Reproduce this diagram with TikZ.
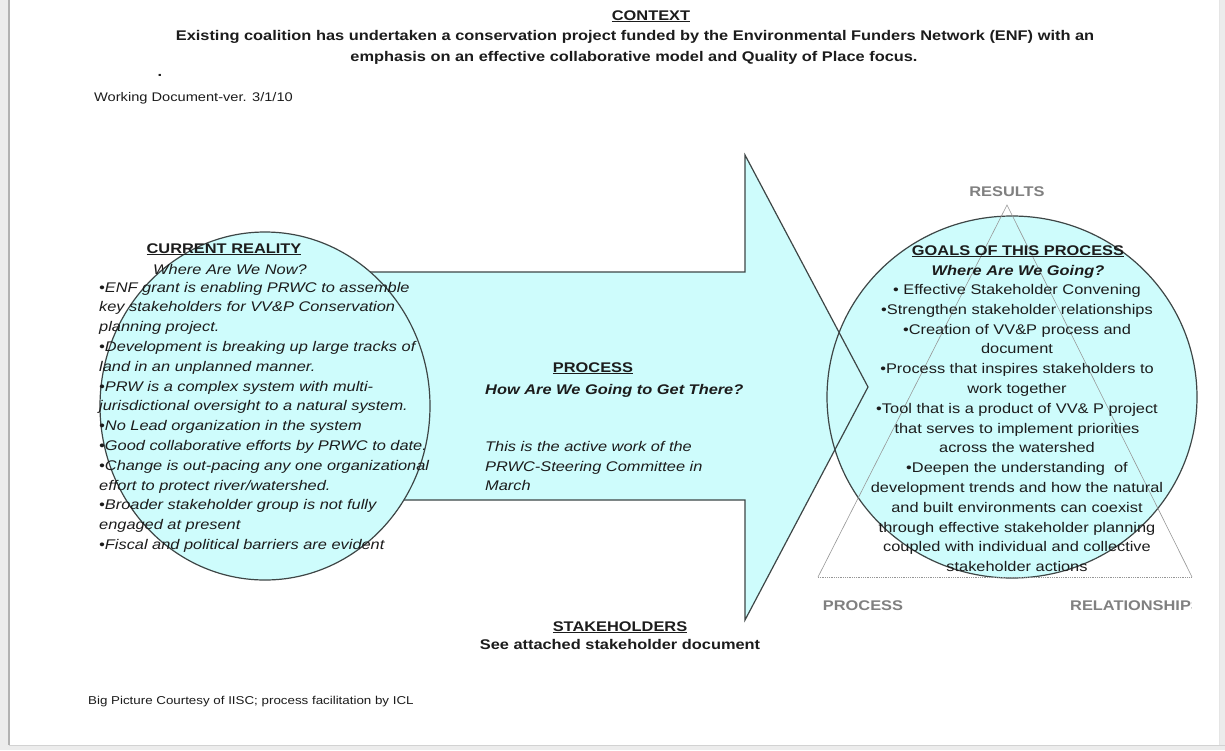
\documentclass[tikz,border=0pt]{standalone}
\usepackage{fontspec}
\setmainfont{Liberation Sans}[FakeStretch=1.17]
\definecolor{fillc}{RGB}{206,252,252}
\definecolor{linec}{RGB}{62,70,70}
\definecolor{txtc}{RGB}{28,28,28}
\definecolor{lblc}{RGB}{128,128,128}
\definecolor{tric}{RGB}{150,150,150}
\definecolor{outc}{RGB}{236,236,236}
\begin{document}
\begin{tikzpicture}[x=1pt,y=-1pt,
  every node/.style={inner sep=0pt, text=txtc},
  bodyfont/.style={font=\fontsize{14}{16}\selectfont},
  headfont/.style={font=\fontsize{14}{16}\selectfont\bfseries},
  topfont/.style={font=\fontsize{14}{16}\selectfont\bfseries},
  smallfont/.style={font=\fontsize{12.5}{14}\selectfont},
  tinyfont/.style={font=\fontsize{11.4}{13}\selectfont},
  lblfont/.style={font=\fontsize{14}{16}\selectfont\bfseries, text=lblc},
  outline/.style={draw=linec, line width=1.2pt},
  triside/.style={draw=tric, line width=0.6pt},
  tribase/.style={draw=tric, line width=0.8pt, densely dotted}
]
\useasboundingbox (0,0) rectangle (1225,750);
% page
\fill[outc] (0,0) rectangle (1225,750);
\fill[white] (9,0) rectangle (1219,745);
\draw[gray!60, line width=2pt] (9,0) -- (9,745);
\draw[gray!35, line width=1pt] (9,745) -- (1225,745);
\draw[gray!20, line width=0.8pt] (1219,0) -- (1219,745);

% fills
\fill[fillc] (300,272) -- (745,272) -- (745,155) -- (868,387) -- (745,620) -- (745,500) -- (300,500) -- cycle;
\fill[fillc] (1012,397) ellipse [x radius=185pt, y radius=181pt];
% outlines
\draw[outline] (300,272) -- (745,272) -- (745,155) -- (868,387) -- (745,620) -- (745,500) -- (300,500);
\draw[outline] (1012,397) ellipse [x radius=185pt, y radius=181pt];
% left circle
\filldraw[fill=fillc, outline] (265,406) ellipse [x radius=165pt, y radius=174pt];

% triangle
\coordinate (apex) at (1007,205);
\coordinate (bl) at (818,577);
\coordinate (br) at (1192,577);
\draw[triside] (bl) -- (apex) -- (br);
\draw[tribase] (bl) -- (br);

% top texts
\node[headfont, anchor=base] (ctx) at (651,20) {\underline{CONTEXT}};
\node[topfont, anchor=base] (ctx1) at (635,40) {Existing coalition has undertaken a conservation project funded by the Environmental Funders Network (ENF) with an};
\node[topfont, anchor=base] (ctx2) at (634,61) {emphasis on an effective collaborative model and Quality of Place focus.};
\node[headfont, anchor=base] (dot) at (160,76) {.};
\node[smallfont, anchor=base west] (wd) at (94,101) {Working Document-ver. 3/1/10};

% left circle text
\node[headfont, anchor=base] (crh) at (224,253) {\underline{CURRENT REALITY}};
\node[anchor=base, font=\fontsize{14}{16}\selectfont\itshape] (crs) at (230,274.5) {Where Are We Now?};
\foreach \t [count=\i] in {
  {•ENF grant is enabling PRWC to assemble},
  {key stakeholders for VV\&P Conservation},
  {planning project.},
  {•Development is breaking up large tracks of},
  {land in an unplanned manner.},
  {•PRW is a complex system with multi-},
  {jurisdictional oversight to a natural system.},
  {•No Lead organization in the system},
  {•Good collaborative efforts by PRWC to date.},
  {•Change is out-pacing any one organizational},
  {effort to protect river/watershed.},
  {•Broader stakeholder group is not fully},
  {engaged at present},
  {•Fiscal and political barriers are evident}}
  \node[anchor=base west, font=\fontsize{14}{16}\selectfont\itshape] (L\i) at (99,{292+19.8*(\i-1)}) {\t};

% middle text
\node[headfont, anchor=base] (prh) at (593,372) {\underline{PROCESS}};
\node[anchor=base west, font=\fontsize{14}{16}\selectfont\bfseries\itshape] (prs) at (485,394) {How Are We Going to Get There?};
\node[anchor=base west, font=\fontsize{14}{16}\selectfont\itshape] (pr1) at (485,451.5) {This is the active work of the};
\node[anchor=base west, font=\fontsize{14}{16}\selectfont\itshape] (pr2) at (485,471) {PRWC-Steering Committee in};
\node[anchor=base west, font=\fontsize{14}{16}\selectfont\itshape] (pr3) at (485,490.5) {March};

% right circle text
\node[headfont, anchor=base] (gh) at (1018,255) {\underline{GOALS OF THIS PROCESS}};
\node[anchor=base, font=\fontsize{14}{16}\selectfont\bfseries\itshape] (gs) at (1018,275) {Where Are We Going?};
\foreach \t [count=\i] in {
  {• Effective Stakeholder Convening},
  {•Strengthen stakeholder relationships},
  {•Creation of VV\&P process and},
  {document},
  {•Process that inspires stakeholders to},
  {work together},
  {•Tool that is a product of VV\& P project},
  {that serves to implement priorities},
  {across the watershed},
  {•Deepen the understanding\ \ of},
  {development trends and how the natural},
  {and built environments can coexist},
  {through effective stakeholder planning},
  {coupled with individual and collective},
  {stakeholder actions}}
  \node[bodyfont, anchor=base] (R\i) at (1017,{294.5+19.8*(\i-1)}) {\t};

% triangle labels
\node[lblfont, anchor=base] (lres) at (1007,196) {RESULTS};
\node[lblfont, anchor=base] (lpro) at (863,610) {PROCESS};
\begin{scope}
  \clip (1000,590) rectangle (1191,620);
  \node[lblfont, anchor=base west] (lrel) at (1070,610) {RELATIONSHIPS};
\end{scope}

% bottom
\node[headfont, anchor=base] (sth) at (620,631) {\underline{STAKEHOLDERS}};
\node[headfont, anchor=base] (sts) at (620,649) {See attached stakeholder document};
\node[tinyfont, anchor=base west] (bp) at (88,704) {Big Picture Courtesy of IISC; process facilitation by ICL};
\end{tikzpicture}
\end{document}
